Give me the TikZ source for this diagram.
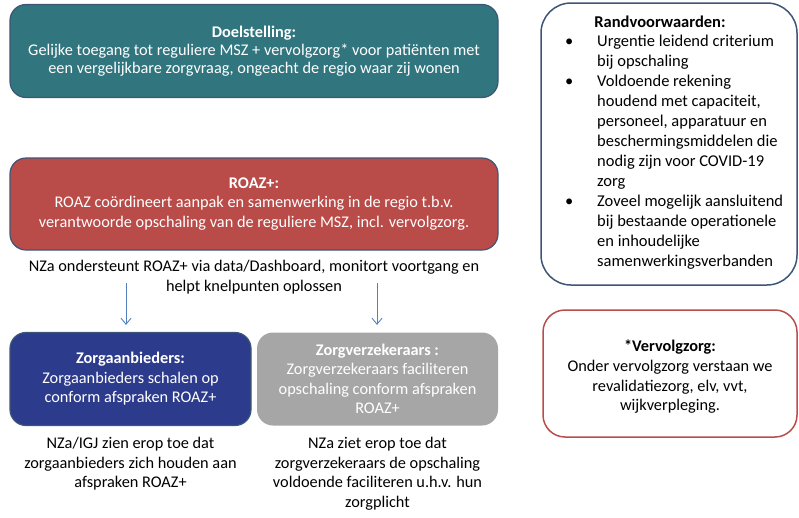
\documentclass[tikz,border=0pt]{standalone}
\usepackage{fontspec}
\setmainfont{Carlito}
\usetikzlibrary{arrows.meta}
\definecolor{doelteal}{HTML}{31757E}
\definecolor{roazrood}{HTML}{B94B48}
\definecolor{zorgblauw}{HTML}{2C3B8C}
\definecolor{verzgrijs}{HTML}{A6A6A6}
\definecolor{randblauw}{HTML}{3D5676}
\definecolor{randrood}{HTML}{B84E4C}
\definecolor{pijlblauw}{HTML}{5580BE}
\tikzset{
  blok/.style={rounded corners=16pt, inner sep=0pt, align=center, text=white,
    font=\fontsize{16.3}{19.5}\selectfont, line width=1.2pt},
  los/.style={align=center, inner sep=0pt, font=\fontsize{16.3}{19.7}\selectfont},
  kader/.style={draw, fill=white, line width=1.5pt},
  pijl/.style={->, draw=pijlblauw, line width=0.9pt, shorten >=7pt}
}
\begin{document}
\begin{tikzpicture}[x=1pt, y=-1pt, >={Straight Barb[length=6pt,width=10pt]}]
  \useasboundingbox (0,0) rectangle (799,517);
  % linker kolom
  \node[blok, fill=doelteal, draw=randblauw, minimum width=488, minimum height=93,
    font=\fontsize{16.3}{18}\selectfont] (doel) at (254,51)
    {\textbf{Doelstelling:}\\Gelijke toegang tot reguliere MSZ + vervolgzorg* voor patiënten met\\een vergelijkbare zorgvraag, ongeacht de regio waar zij wonen};
  \node[blok, fill=roazrood, draw=randblauw, minimum width=488, minimum height=92] (roaz) at (254,204)
    {\textbf{ROAZ+:}\\ROAZ coördineert aanpak en samenwerking in de regio t.b.v.\\verantwoorde opschaling van de reguliere MSZ, incl. vervolgzorg.};
  \node[los] (nza) at (254,277) {NZa ondersteunt ROAZ+ via data/Dashboard, monitort voortgang en\\helpt knelpunten oplossen};
  \node[blok, fill=zorgblauw, draw=randblauw, minimum width=241, minimum height=93] (aanb) at (130.5,379)
    {\textbf{Zorgaanbieders:}\\Zorgaanbieders schalen op\\conform afspraken ROAZ+};
  \node[blok, fill=verzgrijs, minimum width=241, minimum height=93] (verz) at (377.5,379)
    {\textbf{Zorgverzekeraars :}\\Zorgverzekeraars faciliteren\\opschaling conform afspraken\\ROAZ+};
  \node[los, anchor=north] (toezicht) at (130.5,437)
    {NZa/IGJ zien erop toe dat\\zorgaanbieders zich houden aan\\afspraken ROAZ+};
  \node[los, anchor=north] (plicht) at (377.5,437)
    {NZa ziet erop toe dat\\zorgverzekeraars de opschaling\\voldoende faciliteren u.h.v. hun\\zorgplicht};
  \coordinate (p1) at (126,283);
  \coordinate (p2) at (377,283);
  \draw[pijl] (p1) -- (p1 |- aanb.north);
  \draw[pijl] (p2) -- (p2 |- verz.north);
  % rechter kolom
  \draw[kader, draw=randblauw, rounded corners=30pt] (541,3) rectangle (797,285);
  \node[los, font=\fontsize{16.5}{20}\selectfont\bfseries] (randtitel) at (660,22) {Randvoorwaarden:};
  \node[los, anchor=north west, align=left, font=\fontsize{16.5}{20}\selectfont] (randlijst) at (565,32)
    {\begin{tabular}{@{}l@{}l@{}}
      \makebox[32pt][l]{\textbullet} & Urgentie leidend criterium\\
                  & bij opschaling\\
      \textbullet & Voldoende rekening\\
                  & houdend met capaciteit,\\
                  & personeel, apparatuur en\\
                  & beschermingsmiddelen die\\
                  & nodig zijn voor COVID-19\\
                  & zorg\\
      \textbullet & Zoveel mogelijk aansluitend\\
                  & bij bestaande operationele\\
                  & en inhoudelijke\\
                  & samenwerkingsverbanden
    \end{tabular}};
  \draw[kader, draw=randrood, rounded corners=22pt] (543,310) rectangle (797,437);
  \node[los] (verv) at (670,377) {\textbf{*Vervolgzorg:}\\Onder vervolgzorg verstaan we\\revalidatiezorg, elv, vvt,\\wijkverpleging.};
\end{tikzpicture}
\end{document}
